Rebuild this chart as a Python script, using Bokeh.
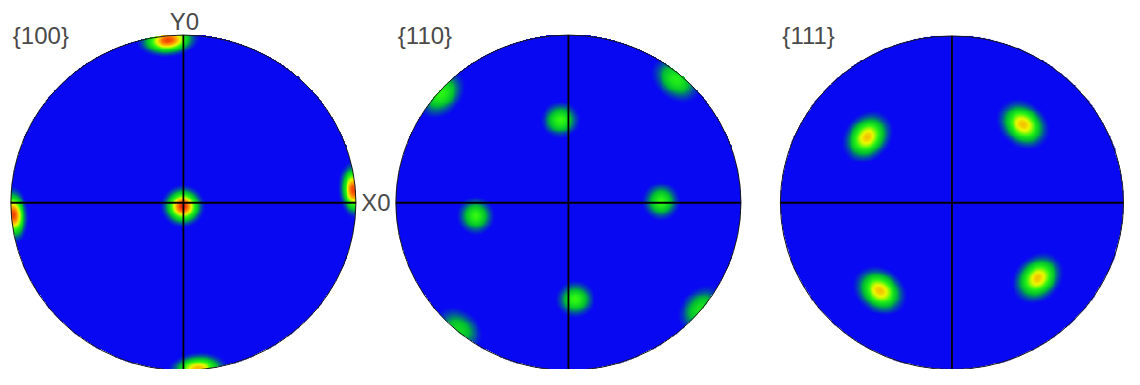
import numpy as np
from bokeh.plotting import figure
from bokeh.models import Range1d, LinearColorMapper, Label
from bokeh.embed import file_html
from bokeh.resources import INLINE

# ---------------- data (pole figure coordinates, unit disk, x right, y up) ----------------
panel_names = ["{100}", "{110}", "{111}"]

p100_px = [-0.089, -0.003, 0.986, -0.986, 0.083]
p100_py = [0.966, -0.023, 0.074, -0.074, -0.99]
p100_peak = [0.93, 1.0, 0.93, 0.93, 0.72]
p100_sr = [0.040, 0.050, 0.036, 0.036, 0.040]
p100_st = [0.072, 0.050, 0.068, 0.068, 0.072]

p110_px = [-0.046, 0.537, -0.537, 0.040, 0.623, -0.737, -0.634, 0.766]
p110_py = [0.491, 0.006, -0.080, -0.577, 0.731, 0.646, -0.754, -0.634]
p110_peak = [0.42, 0.42, 0.42, 0.42, 0.38, 0.40, 0.30, 0.34]
p110_sr = [0.050, 0.050, 0.050, 0.050, 0.055, 0.055, 0.055, 0.055]
p110_st = [0.053, 0.053, 0.053, 0.053, 0.075, 0.075, 0.075, 0.075]

p111_px = [-0.494, 0.414, -0.420, 0.500]
p111_py = [0.391, 0.466, -0.529, -0.454]
p111_peak = [0.70, 0.70, 0.70, 0.70]
p111_sr = [0.056, 0.056, 0.056, 0.056]
p111_st = [0.070, 0.070, 0.070, 0.070]

# colour scale stops (intensity -> colour)
cmap_v = [0.0, 0.035, 0.22, 0.40, 0.60, 0.80, 1.0]
cmap_rgb = [(8, 8, 242), (8, 8, 242), (0, 190, 50), (40, 245, 20),
            (235, 250, 0), (255, 140, 0), (235, 30, 0)]

# ---------------- layout (coordinates of the 1140x385 reference, y measured upward) -----------
REF_W, REF_H = 1140, 385
FIG_W, FIG_H = 1124, 369
centers_x = [185.5, 576.0, 965.0]
center_y_screen = 211.0
radii = [175.0, 175.0, 174.0]


def yup(sy):
    return REF_H - sy


def build_palette():
    vs = np.linspace(0, 1, 256)
    arr = np.array(cmap_rgb, dtype=float)
    cols = []
    for v in vs:
        r = np.interp(v, cmap_v, arr[:, 0])
        g = np.interp(v, cmap_v, arr[:, 1])
        b = np.interp(v, cmap_v, arr[:, 2])
        cols.append("#%02x%02x%02x" % (int(round(r)), int(round(g)), int(round(b))))
    return cols


def field(px, py, peak, sr, st, n=360):
    g = (np.arange(n) + 0.5) / n * 2.0 - 1.0
    X, Y = np.meshgrid(g, g)
    F = np.zeros_like(X)
    for x0, y0, a, s_r, s_t in zip(px, py, peak, sr, st):
        nrm = np.hypot(x0, y0)
        if nrm < 1e-6:
            ux, uy = 1.0, 0.0
        else:
            ux, uy = x0 / nrm, y0 / nrm
        tx, ty = -uy, ux
        dx = X - x0
        dy = Y - y0
        dr = dx * ux + dy * uy
        dt = dx * tx + dy * ty
        F += a * np.exp(-(dr ** 2 / (2 * s_r ** 2) + dt ** 2 / (2 * s_t ** 2)))
    F[X ** 2 + Y ** 2 > 1.0] = np.nan
    return F


p = figure(width=FIG_W, height=FIG_H, output_backend="svg", toolbar_location=None,
           x_range=Range1d(0, REF_W), y_range=Range1d(0, REF_H),
           x_axis_type=None, y_axis_type=None, min_border=0)
p.grid.visible = False
p.outline_line_color = None
p.background_fill_color = "white"
p.border_fill_color = "white"

mapper = LinearColorMapper(palette=build_palette(), low=0.0, high=1.0,
                           nan_color="rgba(0,0,0,0)", high_color="#eb1e00")

spot_sets = [
    (p100_px, p100_py, p100_peak, p100_sr, p100_st),
    (p110_px, p110_py, p110_peak, p110_sr, p110_st),
    (p111_px, p111_py, p111_peak, p111_sr, p111_st),
]

cy = yup(center_y_screen)
font = "Liberation Sans"
tcol = "#4a4a4a"
tsize = "24px"

for i, (cx, r, spots) in enumerate(zip(centers_x, radii, spot_sets)):
    F = field(*spots)
    p.image(image=[F], x=cx - r, y=cy - r, dw=2 * r, dh=2 * r, color_mapper=mapper)
    p.ellipse(x=[cx], y=[cy], width=2 * r, height=2 * r, fill_color=None,
              line_color="#1a1a1a", line_width=1)
    p.segment(x0=[cx - r, cx], y0=[cy, cy - r], x1=[cx + r, cx], y1=[cy, cy + r],
              line_color="#000000", line_width=1.8)
    p.add_layout(Label(x=cx - r + 2, y=yup(37), text=panel_names[i], text_font=font,
                       text_font_size=tsize, text_color=tcol,
                       text_baseline="middle", text_align="left"))

p.add_layout(Label(x=centers_x[0] + 1, y=yup(22), text="Y0", text_font=font,
                   text_font_size=tsize, text_color=tcol,
                   text_baseline="middle", text_align="center"))
p.add_layout(Label(x=366, y=cy, text="X0", text_font=font,
                   text_font_size=tsize, text_color=tcol,
                   text_baseline="middle", text_align="left"))

open("out.html", "w").write(file_html(p, INLINE))
